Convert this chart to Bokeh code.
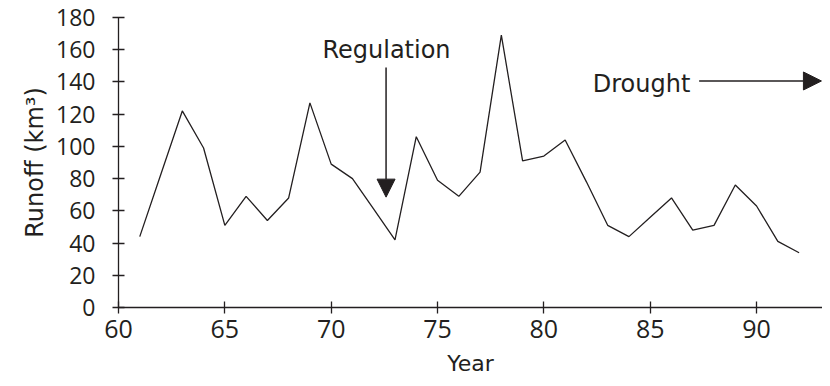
from bokeh.plotting import figure
from bokeh.models import Range1d, FixedTicker, Arrow, NormalHead, Label
from bokeh.embed import file_html
from bokeh.resources import INLINE

years = list(range(61, 93))
runoff = [44, 83, 122, 99, 51, 69, 54, 68, 127, 89, 80, 61, 42, 106, 79, 69,
          84, 169, 91, 94, 104, 78, 51, 44, 56, 68, 48, 51, 76, 63, 41, 34]
x_ticks = [60, 65, 70, 75, 80, 85, 90]
y_ticks = [0, 20, 40, 60, 80, 100, 120, 140, 160, 180]

reg_text = "Regulation"
reg_pos = (72.6, 160)
reg_arrow = (72.58, 149, 68.5)      # x, y_start, y_end
drought_text = "Drought"
drought_pos = (82.3, 139)
drought_arrow = (87.3, 93.05, 140.6)  # x_start, x_end, y

INK = "#231f20"
TICK_FONT = "Open Sans"
TEXT_FONT = "DejaVu Sans"

p = figure(width=822, height=378, output_backend="svg", toolbar_location=None,
           x_range=Range1d(60, 93.1), y_range=Range1d(0, 180),
           min_border_left=118, min_border_right=0, min_border_top=17,
           min_border_bottom=70)
p.outline_line_color = None
p.xgrid.grid_line_color = None
p.ygrid.grid_line_color = None
p.background_fill_color = "white"
p.border_fill_color = "white"

p.line(years, runoff, line_color=INK, line_width=1.3)

for ax in (p.xaxis[0], p.yaxis[0]):
    ax.axis_line_color = INK
    ax.axis_line_width = 1.3
    ax.major_tick_line_color = INK
    ax.major_tick_line_width = 1.3
    ax.major_tick_in = 6
    ax.major_tick_out = 6
    ax.minor_tick_line_color = None
    ax.major_label_text_color = INK
    ax.axis_label_text_color = INK
    ax.axis_label_text_font_style = "normal"
    ax.major_label_text_font = TICK_FONT
    ax.axis_label_text_font = TEXT_FONT

p.xaxis.ticker = FixedTicker(ticks=x_ticks)
p.yaxis.ticker = FixedTicker(ticks=y_ticks)

p.xaxis.axis_label = "Year"
p.xaxis.axis_label_text_font_size = "22px"
p.xaxis.major_label_text_font_size = "25px"
p.xaxis.major_label_standoff = 6
p.xaxis.axis_label_standoff = 10

p.yaxis.axis_label = "Runoff (km³)"
p.yaxis.axis_label_text_font_size = "24px"
p.yaxis.major_label_text_font_size = "23px"
p.yaxis.major_label_standoff = 17
p.yaxis.axis_label_standoff = 4

p.add_layout(Arrow(end=NormalHead(size=18, fill_color=INK, line_color=INK),
                   x_start=reg_arrow[0], y_start=reg_arrow[1],
                   x_end=reg_arrow[0], y_end=reg_arrow[2],
                   line_color=INK, line_width=1.5))
p.add_layout(Arrow(end=NormalHead(size=18, fill_color=INK, line_color=INK),
                   x_start=drought_arrow[0], y_start=drought_arrow[2],
                   x_end=drought_arrow[1], y_end=drought_arrow[2],
                   line_color=INK, line_width=1.3))

p.add_layout(Label(x=reg_pos[0], y=reg_pos[1], text=reg_text, text_align="center",
                   text_baseline="alphabetic", text_font=TEXT_FONT,
                   text_font_size="24px", text_color=INK))
p.add_layout(Label(x=drought_pos[0], y=drought_pos[1], text=drought_text,
                   text_align="left", text_baseline="alphabetic", text_font=TEXT_FONT,
                   text_font_size="24px", text_color=INK))

open("out.html", "w").write(file_html(p, INLINE))
